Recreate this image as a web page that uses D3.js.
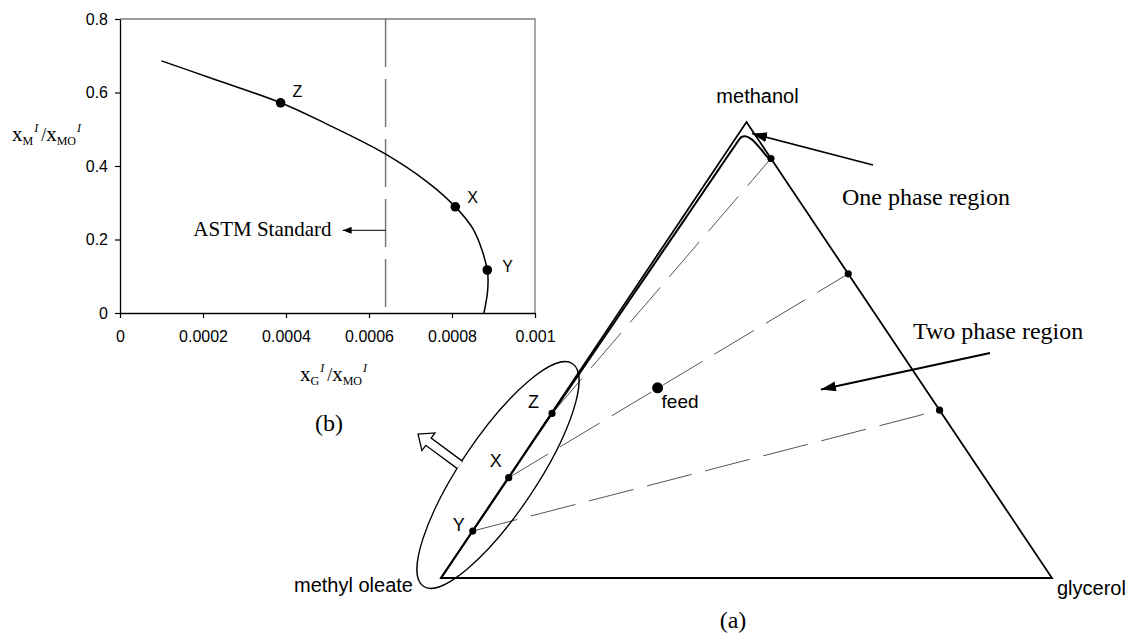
<!DOCTYPE html>
<html>
<head>
<meta charset="utf-8">
<script src="https://cdn.jsdelivr.net/npm/d3@7"></script>
<style>
  body { margin: 0; background: #fff; }
  svg { display: block; }
  .sans { font-family: "Liberation Sans", Arial, sans-serif; }
  .serif { font-family: "Liberation Serif", "Times New Roman", serif; }
</style>
</head>
<body>
<svg id="fig" width="1132" height="635"></svg>
<script>
// inset (b): glycerol / methyl oleate vs methanol / methyl oleate in the ester phase
var ratioG = [0.0001, 0.00022, 0.000387, 0.000495, 0.000636, 0.00074, 0.000808, 0.000852, 0.000885, 0.000886, 0.000877];
var ratioM = [0.686, 0.639, 0.572, 0.516, 0.435, 0.357, 0.289, 0.226, 0.117, 0.063, 0];
var pointNames = ["Z", "X", "Y"];
var pointG = [0.000387, 0.000808, 0.000885];
var pointM = [0.572, 0.289, 0.117];
var astmLimit = 0.00064;
var xTicks = [0, 0.0002, 0.0004, 0.0006, 0.0008, 0.001];
var xTickLabels = ["0", "0.0002", "0.0004", "0.0006", "0.0008", "0.001"];
var yTicks = [0, 0.2, 0.4, 0.6, 0.8];
var yTickLabels = ["0", "0.2", "0.4", "0.6", "0.8"];

// ternary diagram (a): compositions as [glycerol, methanol] mole fractions
var vertexNames = ["methyl oleate", "glycerol", "methanol"];
var binodalG = [0, 0.0005, 0.0008, 0.0012, 0.0025, 0.004, 0.0055, 0.0065, 0.007, 0.0085, 0.015, 0.0275, 0.0412, 0.0556, 0.0721, 0.08];
var binodalM = [0, 0.103, 0.22, 0.361, 0.46, 0.62, 0.78, 0.9, 0.945, 0.9675, 0.9685, 0.962, 0.951, 0.9386, 0.9239, 0.92];
// tie lines: ester-rich end (Z, X, Y) and glycerol-rich end
var tieEsterG = [0.0012, 0.0008, 0.0005];
var tieEsterM = [0.361, 0.22, 0.103];
var tieGlyG = [0.08, 0.333, 0.632];
var tieGlyM = [0.92, 0.667, 0.368];
var feedG = 0.146, feedM = 0.417;

var svg = d3.select("#fig");
var defs = svg.append("defs");

function marker(id, len, half) {
  defs.append("marker")
    .attr("id", id)
    .attr("markerUnits", "userSpaceOnUse")
    .attr("viewBox", `0 ${-half} ${len} ${2 * half}`)
    .attr("refX", len)
    .attr("refY", 0)
    .attr("markerWidth", len)
    .attr("markerHeight", 2 * half)
    .attr("orient", "auto")
    .append("path")
    .attr("d", `M0,${-half}L${len},0L0,${half}Z`)
    .attr("fill", "#000");
}
marker("headSmall", 9, 3.5);
marker("headBig", 15, 5);

// ---------------- inset (b) ----------------
var x = d3.scaleLinear().domain([0, 0.001]).range([120, 535]);
var y = d3.scaleLinear().domain([0, 0.8]).range([313, 19]);

// frame top / right
svg.append("path")
  .attr("d", `M${x(0)},${y(0.8)}H${x(0.001)}V${y(0)}`)
  .attr("fill", "none")
  .attr("stroke", "#7a7a7a")
  .attr("stroke-width", 1.3);

var xAxis = svg.append("g")
  .attr("transform", `translate(0,${y(0)})`)
  .call(d3.axisBottom(x).tickValues(xTicks).tickSize(5).tickSizeOuter(0).tickPadding(13)
    .tickFormat((d, i) => xTickLabels[i]));
var yAxis = svg.append("g")
  .attr("transform", `translate(${x(0)},0)`)
  .call(d3.axisLeft(y).tickValues(yTicks).tickSize(5).tickSizeOuter(0).tickPadding(7)
    .tickFormat((d, i) => yTickLabels[i]));

[xAxis, yAxis].forEach(function (g) {
  g.select(".domain").attr("stroke", "#000").attr("stroke-width", 1.3);
  g.selectAll(".tick line").attr("stroke", "#000").attr("stroke-width", 1.2);
  g.selectAll(".tick text")
    .attr("class", "sans")
    .attr("font-size", 16)
    .attr("fill", "#000");
});

// ASTM limit
svg.append("line")
  .attr("x1", x(astmLimit)).attr("x2", x(astmLimit))
  .attr("y1", y(0.8)).attr("y2", y(0))
  .attr("stroke", "#777")
  .attr("stroke-width", 1.5)
  .attr("stroke-dasharray", "48,12");

svg.append("line")
  .attr("x1", x(astmLimit)).attr("x2", x(astmLimit) - 43)
  .attr("y1", y(0.225)).attr("y2", y(0.225))
  .attr("stroke", "#000")
  .attr("stroke-width", 1)
  .attr("marker-end", "url(#headSmall)");

svg.append("text")
  .attr("class", "serif")
  .attr("x", x(astmLimit) - 54)
  .attr("y", y(0.225) + 6)
  .attr("text-anchor", "end")
  .attr("font-size", 21)
  .text("ASTM Standard");

var ratioData = ratioG.map((g, i) => [g, ratioM[i]]);
svg.append("path")
  .datum(ratioData)
  .attr("d", d3.line().x(d => x(d[0])).y(d => y(d[1])).curve(d3.curveCatmullRom.alpha(0.5)))
  .attr("fill", "none")
  .attr("stroke", "#000")
  .attr("stroke-width", 1.5);

svg.selectAll("circle.ratio")
  .data(pointNames)
  .join("circle")
  .attr("class", "ratio")
  .attr("cx", (d, i) => x(pointG[i]))
  .attr("cy", (d, i) => y(pointM[i]))
  .attr("r", 4.8)
  .attr("fill", "#000");

var insetLabelOff = [[12, -6], [12, -4], [15, 2]];
svg.selectAll("text.ratioLab")
  .data(pointNames)
  .join("text")
  .attr("class", "ratioLab sans")
  .attr("x", (d, i) => x(pointG[i]) + insetLabelOff[i][0])
  .attr("y", (d, i) => y(pointM[i]) + insetLabelOff[i][1])
  .attr("font-size", 16)
  .text(d => d);

function ratioLabel(sel, sub) {
  sel.append("tspan").text("x").attr("font-size", 21);
  sel.append("tspan").text(sub).attr("font-size", 12).attr("dy", 4);
  sel.append("tspan").text("I").attr("font-size", 12).attr("font-style", "italic").attr("dy", -13).attr("dx", 1);
  sel.append("tspan").text("/").attr("font-size", 18).attr("dy", 9).attr("dx", 3);
  sel.append("tspan").text("x").attr("font-size", 21);
  sel.append("tspan").text("MO").attr("font-size", 12).attr("dy", 4);
  sel.append("tspan").text("I").attr("font-size", 12).attr("font-style", "italic").attr("dy", -13).attr("dx", 1);
}
ratioLabel(svg.append("text").attr("class", "serif").attr("x", 12).attr("y", 141), "M");
ratioLabel(svg.append("text").attr("class", "serif").attr("x", 300).attr("y", 381), "G");

svg.append("text")
  .attr("class", "serif")
  .attr("x", 329).attr("y", 431)
  .attr("text-anchor", "middle")
  .attr("font-size", 24)
  .text("(b)");

// ---------------- ternary diagram (a) ----------------
var tx = d3.scaleLinear().domain([0, 1]).range([441, 1052]);
var ty = d3.scaleLinear().domain([0, 1]).range([578, 122]);
function proj(g, m) { return [tx(g + m / 2), ty(m)]; }

var vMO = proj(0, 0), vG = proj(1, 0), vM = proj(0, 1);

// tie lines
svg.selectAll("line.tie")
  .data(tieEsterG)
  .join("line")
  .attr("class", "tie")
  .attr("x1", (d, i) => proj(tieEsterG[i], tieEsterM[i])[0])
  .attr("y1", (d, i) => proj(tieEsterG[i], tieEsterM[i])[1])
  .attr("x2", (d, i) => proj(tieGlyG[i], tieGlyM[i])[0])
  .attr("y2", (d, i) => proj(tieGlyG[i], tieGlyM[i])[1])
  .attr("stroke", "#555")
  .attr("stroke-width", 1)
  .attr("stroke-dasharray", "46,14");

// triangle
svg.append("path")
  .attr("d", `M${vMO}L${vM}L${vG}Z`)
  .attr("fill", "none")
  .attr("stroke", "#000")
  .attr("stroke-width", 1.8)
  .attr("stroke-linejoin", "miter");

// binodal
var binodal = binodalG.map((g, i) => proj(g, binodalM[i]));
svg.append("path")
  .datum(binodal)
  .attr("d", d3.line().curve(d3.curveCatmullRom.alpha(0.5)))
  .attr("fill", "none")
  .attr("stroke", "#000")
  .attr("stroke-width", 2);

// points on tie lines
svg.selectAll("circle.tieEnd")
  .data(tieEsterG.map((g, i) => proj(g, tieEsterM[i])).concat(tieGlyG.map((g, i) => proj(g, tieGlyM[i]))))
  .join("circle")
  .attr("class", "tieEnd")
  .attr("cx", d => d[0])
  .attr("cy", d => d[1])
  .attr("r", 3.6)
  .attr("fill", "#000");

var feed = proj(feedG, feedM);
svg.append("circle")
  .attr("cx", feed[0]).attr("cy", feed[1])
  .attr("r", 5.5)
  .attr("fill", "#000");
svg.append("text")
  .attr("class", "sans")
  .attr("x", feed[0] + 4).attr("y", feed[1] + 20)
  .attr("font-size", 19)
  .text("feed");

var triLabelOff = [[-24, -5], [-19, -11], [-20, 0]];
svg.selectAll("text.triLab")
  .data(pointNames)
  .join("text")
  .attr("class", "triLab sans")
  .attr("x", (d, i) => proj(tieEsterG[i], tieEsterM[i])[0] + triLabelOff[i][0])
  .attr("y", (d, i) => proj(tieEsterG[i], tieEsterM[i])[1] + triLabelOff[i][1])
  .attr("font-size", 18)
  .text(d => d);

// vertex names
svg.append("text").attr("class", "sans").attr("font-size", 20)
  .attr("x", vMO[0] - 28).attr("y", vMO[1] + 14).attr("text-anchor", "end").text(vertexNames[0]);
svg.append("text").attr("class", "sans").attr("font-size", 20)
  .attr("x", vG[0] + 5).attr("y", vG[1] + 17).text(vertexNames[1]);
svg.append("text").attr("class", "sans").attr("font-size", 20)
  .attr("x", vM[0] + 11).attr("y", vM[1] - 19).attr("text-anchor", "middle").text(vertexNames[2]);

// ellipse around the ester-rich branch
var edgeAngle = Math.atan2(vM[1] - vMO[1], vM[0] - vMO[0]) * 180 / Math.PI;
svg.append("ellipse")
  .attr("transform", `translate(498,475) rotate(${edgeAngle})`)
  .attr("rx", 134)
  .attr("ry", 38)
  .attr("fill", "none")
  .attr("stroke", "#000")
  .attr("stroke-width", 1.3);

// hollow block arrow pointing to the inset
var arrowBase = [460, 465], arrowTip = [418, 434];
var aLen = Math.hypot(arrowTip[0] - arrowBase[0], arrowTip[1] - arrowBase[1]);
var aAng = Math.atan2(arrowTip[1] - arrowBase[1], arrowTip[0] - arrowBase[0]) * 180 / Math.PI;
var hl = 13, hw = 11, sw = 4.5;
svg.append("path")
  .attr("transform", `translate(${arrowBase}) rotate(${aAng})`)
  .attr("d", `M0,${-sw}L${aLen - hl},${-sw}L${aLen - hl},${-hw}L${aLen},0L${aLen - hl},${hw}L${aLen - hl},${sw}L0,${sw}`)
  .attr("fill", "#fff")
  .attr("stroke", "#000")
  .attr("stroke-width", 1.3);

// region annotations
var oneTail = [873, 165], oneTip = [752, 133.5];
svg.append("line")
  .attr("x1", oneTail[0]).attr("y1", oneTail[1])
  .attr("x2", oneTip[0]).attr("y2", oneTip[1])
  .attr("stroke", "#000").attr("stroke-width", 1.8)
  .attr("marker-end", "url(#headBig)");
svg.append("text").attr("class", "serif").attr("font-size", 24)
  .attr("x", 842).attr("y", 205).text("One phase region");

var twoTail = [990, 353], twoTip = [821, 389.5];
svg.append("line")
  .attr("x1", twoTail[0]).attr("y1", twoTail[1])
  .attr("x2", twoTip[0]).attr("y2", twoTip[1])
  .attr("stroke", "#000").attr("stroke-width", 1.8)
  .attr("marker-end", "url(#headBig)");
svg.append("text").attr("class", "serif").attr("font-size", 24)
  .attr("x", 913).attr("y", 339).text("Two phase region");

svg.append("text").attr("class", "serif").attr("font-size", 24)
  .attr("x", 733).attr("y", 628).attr("text-anchor", "middle").text("(a)");
</script>
</body>
</html>
